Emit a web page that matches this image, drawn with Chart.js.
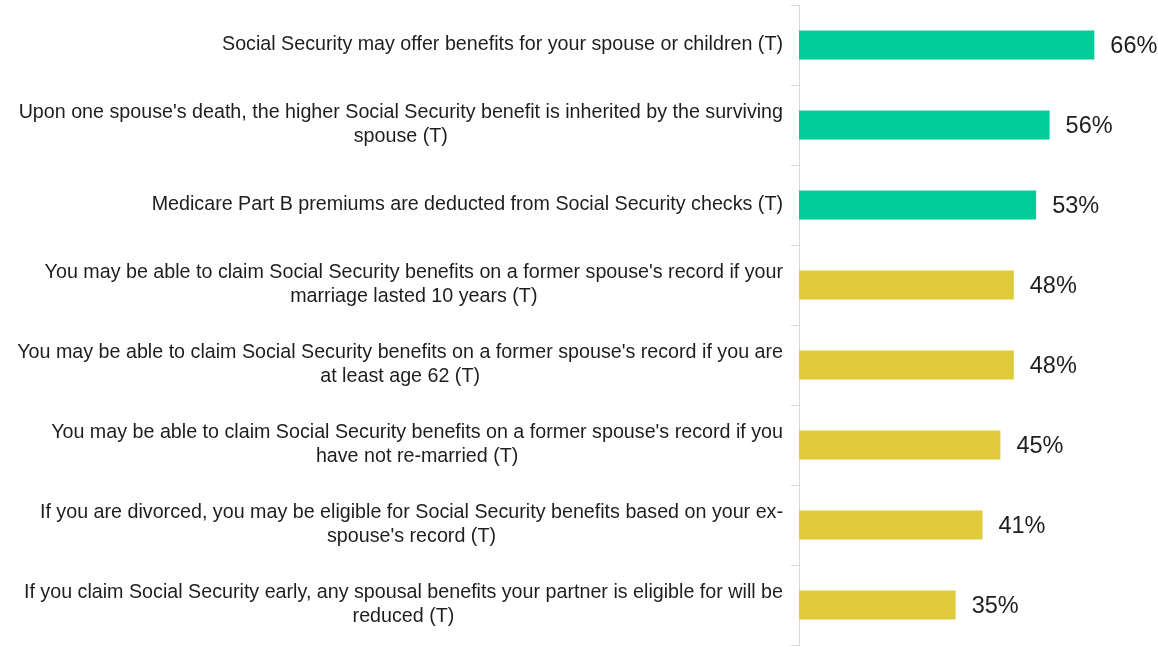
<!DOCTYPE html>
<html>
<head>
<meta charset="utf-8">
<script src="https://cdn.jsdelivr.net/npm/chart.js@4.4.0/dist/chart.umd.min.js"></script>
<style>
html,body{margin:0;padding:0;background:#fff;}
#wrap{width:1158px;height:647px;position:relative;}
</style>
</head>
<body>
<div id="wrap"><canvas id="c"></canvas></div>
<script>
const categories = [
  ["Social Security may offer benefits for your spouse or children (T)"],
  ["Upon one spouse's death, the higher Social Security benefit is inherited by the surviving", "spouse (T)"],
  ["Medicare Part B premiums are deducted from Social Security checks (T)"],
  ["You may be able to claim Social Security benefits on a former spouse's record if your", "marriage lasted 10 years (T)"],
  ["You may be able to claim Social Security benefits on a former spouse's record if you are", "at least age 62 (T)"],
  ["You may be able to claim Social Security benefits on a former spouse's record if you", "have not re-married (T)"],
  ["If you are divorced, you may be eligible for Social Security benefits based on your ex-", "spouse's record (T)"],
  ["If you claim Social Security early, any spousal benefits your partner is eligible for will be", "reduced (T)"]
];
const values = [66, 56, 53, 48, 48, 45, 41, 35];
const groups = ["high", "high", "high", "low", "low", "low", "low", "low"];
const groupColors = { high: "#00CC99", low: "#E0CB3A" };

const LABEL_FONT = '19.7px "Liberation Sans", Arial, sans-serif';
const VALUE_FONT = '23.5px "Liberation Sans", Arial, sans-serif';

const labelPlugin = {
  id: 'customLabels',
  afterDraw(chart) {
    const ctx = chart.ctx;
    const y = chart.scales.y;
    ctx.save();
    ctx.fillStyle = '#1e1e1e';
    ctx.font = LABEL_FONT;
    ctx.textBaseline = 'middle';
    ctx.textAlign = 'center';
    const right = y.right - 16;
    const lh = 24;
    categories.forEach((lines, i) => {
      const cy = y.getPixelForValue(i);
      let maxW = 0;
      lines.forEach(l => { maxW = Math.max(maxW, ctx.measureText(l).width); });
      const cx = right - maxW / 2;
      const top = cy - (lines.length - 1) * lh / 2;
      lines.forEach((l, j) => ctx.fillText(l, cx, top + j * lh));
    });
    ctx.font = VALUE_FONT;
    ctx.textAlign = 'left';
    const meta = chart.getDatasetMeta(0);
    meta.data.forEach((bar, i) => {
      ctx.fillText(values[i] + '%', bar.x + 16, bar.y + 1.5);
    });
    ctx.restore();
  }
};

new Chart(document.getElementById('c'), {
  type: 'bar',
  data: {
    labels: categories.map(c => c.join(' ')),
    datasets: [{
      data: values,
      backgroundColor: groups.map(g => groupColors[g]),
      borderWidth: 0,
      categoryPercentage: 1,
      barPercentage: 0.36
    }]
  },
  options: {
    indexAxis: 'y',
    responsive: true,
    maintainAspectRatio: false,
    animation: false,
    layout: { padding: { top: 5, bottom: 2, right: 1, left: 0 } },
    plugins: { legend: { display: false }, tooltip: { enabled: false } },
    scales: {
      x: { display: false, min: 0, max: 80 },
      y: {
        position: 'left',
        offset: true,
        ticks: { display: false },
        grid: { display: true, drawOnChartArea: false, drawTicks: true, tickLength: 8, color: '#d9d9d9', offset: true },
        border: { display: true, color: '#d9d9d9', width: 1 },
        afterFit(scale) { scale.width = 799; }
      }
    }
  },
  plugins: [labelPlugin]
});
</script>
</body>
</html>
